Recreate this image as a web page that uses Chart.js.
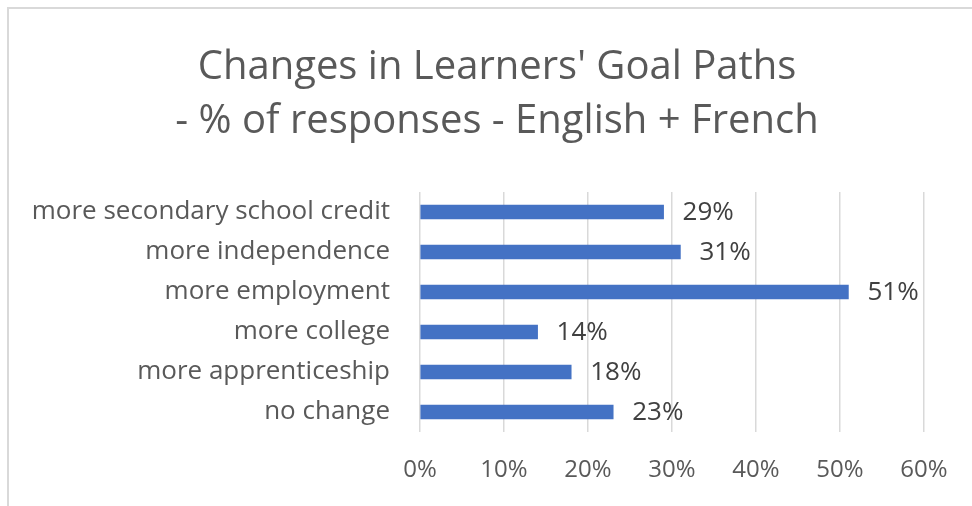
<!DOCTYPE html>
<html>
<head>
<meta charset="utf-8">
<title>Changes in Learners' Goal Paths</title>
<script src="https://cdn.jsdelivr.net/npm/chart.js@4.4.1/dist/chart.umd.min.js"></script>
<style>
  html, body { margin: 0; padding: 0; background: #ffffff; }
  #wrap { width: 972px; height: 506px; position: relative; }
</style>
</head>
<body>
<div id="wrap"><canvas id="goalChart"></canvas></div>
<script>
// Goal path categories, top to bottom
const goalPaths = [
  'more secondary school credit',
  'more independence',
  'more employment',
  'more college',
  'more apprenticeship',
  'no change'
];
// Share of responses (%) for each goal path
const responsePct = [29, 31, 51, 14, 18, 23];
// Axis range in percent
const axisMin = 0;
const axisMax = 60;
const axisStep = 10;

const titleLines = ["Changes in Learners' Goal Paths", '- % of responses - English + French'];

Chart.defaults.font.family = "'Open Sans', sans-serif";
Chart.defaults.color = '#595959';

// Light frame on the top and left edges, plus the two-line heading
const framePlugin = {
  id: 'frame',
  beforeDraw(chart) {
    const c = chart.ctx;
    c.save();
    c.strokeStyle = '#d9d9d9';
    c.lineWidth = 2;
    c.beginPath();
    c.moveTo(972, 8);
    c.lineTo(8, 8);
    c.lineTo(8, 506);
    c.stroke();

    c.font = "40px 'Open Sans', sans-serif";
    c.fillStyle = '#595959';
    c.textAlign = 'center';
    c.textBaseline = 'alphabetic';
    titleLines.forEach((line, i) => {
      c.fillText(line, 497, 79 + i * 54);
    });
    c.restore();
  }
};

// Percent labels just past the end of each bar
const valueLabels = {
  id: 'valueLabels',
  afterDatasetsDraw(chart) {
    const c = chart.ctx;
    const meta = chart.getDatasetMeta(0);
    c.save();
    c.font = "26px 'Open Sans', sans-serif";
    c.fillStyle = '#404040';
    c.textAlign = 'left';
    c.textBaseline = 'middle';
    meta.data.forEach((bar, i) => {
      c.fillText(responsePct[i] + '%', bar.x + 19, bar.y + 1);
    });
    c.restore();
  }
};

new Chart(document.getElementById('goalChart').getContext('2d'), {
  type: 'bar',
  data: {
    labels: goalPaths,
    datasets: [{
      data: responsePct,
      backgroundColor: '#4472c4',
      borderWidth: 0,
      barThickness: 14
    }]
  },
  options: {
    indexAxis: 'y',
    responsive: true,
    maintainAspectRatio: false,
    animation: false,
    layout: { padding: { left: 0, right: 48, top: 192, bottom: 0 } },
    plugins: {
      legend: { display: false },
      tooltip: { enabled: false },
      title: { display: false }
    },
    scales: {
      x: {
        min: axisMin,
        max: axisMax,
        grid: { color: '#d9d9d9', lineWidth: 1.5, drawTicks: false },
        border: { display: false },
        ticks: {
          stepSize: axisStep,
          padding: 24,
          color: '#595959',
          font: { size: 24 },
          callback: v => v + '%'
        },
        afterFit(scale) { scale.height = 74; }
      },
      y: {
        grid: { display: false, drawTicks: false },
        border: { display: false },
        ticks: {
          padding: 30,
          color: '#595959',
          font: { size: 26 }
        },
        afterFit(scale) { scale.width = 420; }
      }
    }
  },
  plugins: [framePlugin, valueLabels]
});
</script>
</body>
</html>
